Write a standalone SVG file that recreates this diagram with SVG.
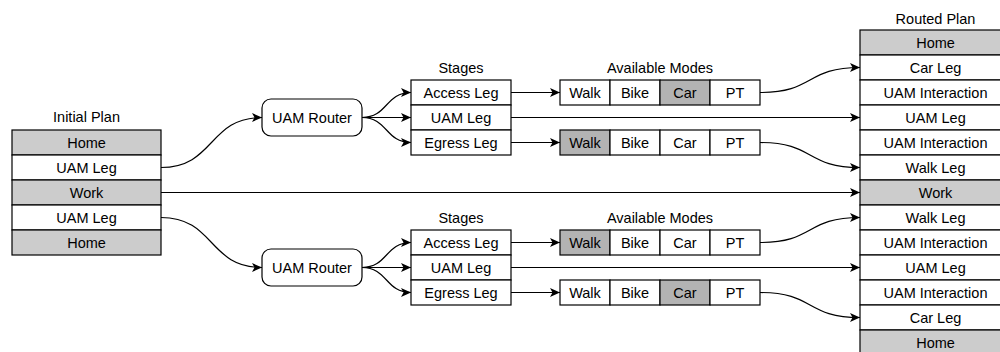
<svg xmlns="http://www.w3.org/2000/svg" width="1000" height="352" viewBox="0 0 1000 352">
<style>
text{font-family:"Liberation Sans",Arial,Helvetica,sans-serif;font-size:14.5px;fill:#000;text-anchor:middle}
.c{fill:#fff;stroke:#000;stroke-width:1.2}
.g{fill:#cccccc;stroke:#000;stroke-width:1.2}
.m{fill:#b3b3b3;stroke:#000;stroke-width:1.2}
.e{fill:none;stroke:#000;stroke-width:1.2}
</style>
<defs>
<marker id="a" markerUnits="userSpaceOnUse" markerWidth="12" markerHeight="10" refX="10" refY="5" orient="auto" viewBox="0 0 12 10">
<path d="M0,0.5 L10,5 L0,9.5 L2.5,5 Z" fill="#000"/>
</marker>
</defs>
<rect width="1000" height="352" fill="#fff"/>

<g id="initial-plan">
<text x="86.5" y="122">Initial Plan</text>
<rect class="g" x="12" y="130" width="149" height="25"/><text x="86.5" y="147.5">Home</text>
<rect class="c" x="12" y="155" width="149" height="25"/><text x="86.5" y="172.5">UAM Leg</text>
<rect class="g" x="12" y="180" width="149" height="25"/><text x="86.5" y="197.5">Work</text>
<rect class="c" x="12" y="205" width="149" height="25"/><text x="86.5" y="222.5">UAM Leg</text>
<rect class="g" x="12" y="230" width="149" height="25"/><text x="86.5" y="247.5">Home</text>
</g>

<g id="router-top">
<rect class="c" x="262" y="99" width="100" height="37" rx="9"/><text x="312" y="122.5">UAM Router</text>
</g>
<g id="router-bottom">
<rect class="c" x="262" y="249" width="100" height="37" rx="9"/><text x="312" y="272.5">UAM Router</text>
</g>

<g id="stages-top">
<text x="461" y="73">Stages</text>
<rect class="c" x="411" y="80" width="100" height="25"/><text x="461" y="97.5">Access Leg</text>
<rect class="c" x="411" y="105" width="100" height="25"/><text x="461" y="122.5">UAM Leg</text>
<rect class="c" x="411" y="130" width="100" height="25"/><text x="461" y="147.5">Egress Leg</text>
</g>
<g id="stages-bottom">
<text x="461" y="223">Stages</text>
<rect class="c" x="411" y="230" width="100" height="25"/><text x="461" y="247.5">Access Leg</text>
<rect class="c" x="411" y="255" width="100" height="25"/><text x="461" y="272.5">UAM Leg</text>
<rect class="c" x="411" y="280" width="100" height="25"/><text x="461" y="297.5">Egress Leg</text>
</g>

<g id="modes-top-title"><text x="660" y="73">Available Modes</text></g>
<g id="modes-top-access">
<rect class="c" x="560" y="80" width="50" height="25"/><text x="585" y="97.5">Walk</text>
<rect class="c" x="610" y="80" width="50" height="25"/><text x="635" y="97.5">Bike</text>
<rect class="m" x="660" y="80" width="50" height="25"/><text x="685" y="97.5">Car</text>
<rect class="c" x="710" y="80" width="50" height="25"/><text x="735" y="97.5">PT</text>
</g>
<g id="modes-top-egress">
<rect class="m" x="560" y="130" width="50" height="25"/><text x="585" y="147.5">Walk</text>
<rect class="c" x="610" y="130" width="50" height="25"/><text x="635" y="147.5">Bike</text>
<rect class="c" x="660" y="130" width="50" height="25"/><text x="685" y="147.5">Car</text>
<rect class="c" x="710" y="130" width="50" height="25"/><text x="735" y="147.5">PT</text>
</g>
<g id="modes-bottom-title"><text x="660" y="223">Available Modes</text></g>
<g id="modes-bottom-access">
<rect class="m" x="560" y="230" width="50" height="25"/><text x="585" y="247.5">Walk</text>
<rect class="c" x="610" y="230" width="50" height="25"/><text x="635" y="247.5">Bike</text>
<rect class="c" x="660" y="230" width="50" height="25"/><text x="685" y="247.5">Car</text>
<rect class="c" x="710" y="230" width="50" height="25"/><text x="735" y="247.5">PT</text>
</g>
<g id="modes-bottom-egress">
<rect class="c" x="560" y="280" width="50" height="25"/><text x="585" y="297.5">Walk</text>
<rect class="c" x="610" y="280" width="50" height="25"/><text x="635" y="297.5">Bike</text>
<rect class="m" x="660" y="280" width="50" height="25"/><text x="685" y="297.5">Car</text>
<rect class="c" x="710" y="280" width="50" height="25"/><text x="735" y="297.5">PT</text>
</g>

<g id="routed-plan">
<text x="935.5" y="24">Routed Plan</text>
<rect class="g" x="860" y="30" width="151" height="25"/><text x="935.5" y="47.5">Home</text>
<rect class="c" x="860" y="55" width="151" height="25"/><text x="935.5" y="72.5">Car Leg</text>
<rect class="c" x="860" y="80" width="151" height="25"/><text x="935.5" y="97.5">UAM Interaction</text>
<rect class="c" x="860" y="105" width="151" height="25"/><text x="935.5" y="122.5">UAM Leg</text>
<rect class="c" x="860" y="130" width="151" height="25"/><text x="935.5" y="147.5">UAM Interaction</text>
<rect class="c" x="860" y="155" width="151" height="25"/><text x="935.5" y="172.5">Walk Leg</text>
<rect class="g" x="860" y="180" width="151" height="25"/><text x="935.5" y="197.5">Work</text>
<rect class="c" x="860" y="205" width="151" height="25"/><text x="935.5" y="222.5">Walk Leg</text>
<rect class="c" x="860" y="230" width="151" height="25"/><text x="935.5" y="247.5">UAM Interaction</text>
<rect class="c" x="860" y="255" width="151" height="25"/><text x="935.5" y="272.5">UAM Leg</text>
<rect class="c" x="860" y="280" width="151" height="25"/><text x="935.5" y="297.5">UAM Interaction</text>
<rect class="c" x="860" y="305" width="151" height="25"/><text x="935.5" y="322.5">Car Leg</text>
<rect class="g" x="860" y="330" width="151" height="25"/><text x="935.5" y="347.5">Home</text>
</g>

<g id="connectors" class="e" fill="none" stroke="#000" stroke-width="1.2">
<path class="e" d="M161,167.5 C215,167.5 208,117.5 262,117.5" marker-end="url(#a)"/>
<path class="e" d="M161,217.5 C215,217.5 208,267.5 262,267.5" marker-end="url(#a)"/>
<path class="e" d="M161,192.5 L860,192.5" marker-end="url(#a)"/>

<path class="e" d="M362,117.5 C388,117.5 385,92.5 411,92.5" marker-end="url(#a)"/>
<path class="e" d="M362,117.5 L411,117.5" marker-end="url(#a)"/>
<path class="e" d="M362,117.5 C388,117.5 385,142.5 411,142.5" marker-end="url(#a)"/>
<path class="e" d="M362,267.5 C388,267.5 385,242.5 411,242.5" marker-end="url(#a)"/>
<path class="e" d="M362,267.5 L411,267.5" marker-end="url(#a)"/>
<path class="e" d="M362,267.5 C388,267.5 385,292.5 411,292.5" marker-end="url(#a)"/>

<path class="e" d="M511,92.5 L560,92.5" marker-end="url(#a)"/>
<path class="e" d="M511,142.5 L560,142.5" marker-end="url(#a)"/>
<path class="e" d="M511,242.5 L560,242.5" marker-end="url(#a)"/>
<path class="e" d="M511,292.5 L560,292.5" marker-end="url(#a)"/>

<path class="e" d="M511,117.5 L860,117.5" marker-end="url(#a)"/>
<path class="e" d="M511,267.5 L860,267.5" marker-end="url(#a)"/>

<path class="e" d="M760,92.5 C815,92.5 805,67.5 860,67.5" marker-end="url(#a)"/>
<path class="e" d="M760,142.5 C815,142.5 805,167.5 860,167.5" marker-end="url(#a)"/>
<path class="e" d="M760,242.5 C815,242.5 805,217.5 860,217.5" marker-end="url(#a)"/>
<path class="e" d="M760,292.5 C815,292.5 805,317.5 860,317.5" marker-end="url(#a)"/>
</g>
</svg>
